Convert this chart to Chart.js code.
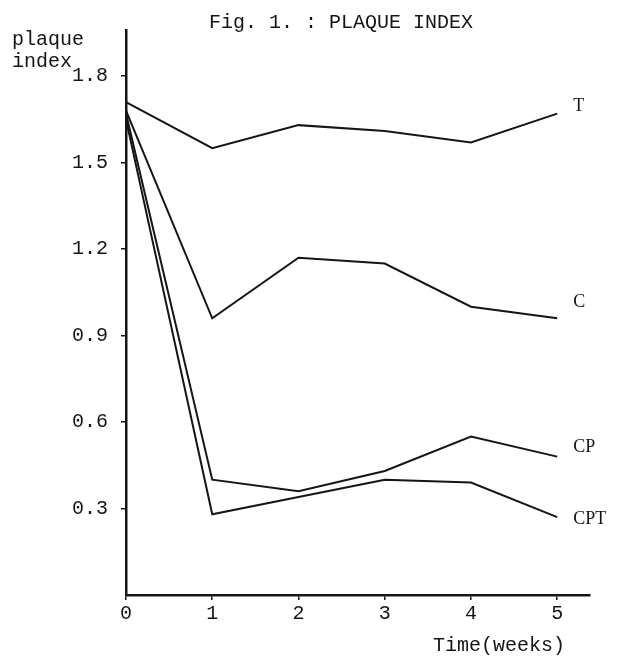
<!DOCTYPE html>
<html>
<head>
<meta charset="utf-8">
<title>Fig. 1. : PLAQUE INDEX</title>
<script src="https://cdn.jsdelivr.net/npm/chart.js@4.4.1/dist/chart.umd.min.js"></script>
<style>
  html, body { margin: 0; padding: 0; background: #fff; }
  canvas { display: block; }
</style>
</head>
<body>
<canvas id="my-chart" width="627" height="656"></canvas>
<script>
'use strict';

// Data
let weeks = [0, 1, 2, 3, 4, 5];
let seriesNames = ['T', 'C', 'CP', 'CPT'];
let valuesT = [1.71, 1.55, 1.63, 1.61, 1.57, 1.67];
let valuesC = [1.68, 0.96, 1.17, 1.15, 1.00, 0.96];
let valuesCP = [1.67, 0.40, 0.36, 0.43, 0.55, 0.48];
let valuesCPT = [1.65, 0.28, 0.34, 0.40, 0.39, 0.27];
let yTickValues = [0.3, 0.6, 0.9, 1.2, 1.5, 1.8];
let xTickValues = [0, 1, 2, 3, 4, 5];

let allSeries = [valuesT, valuesC, valuesCP, valuesCPT];

// small nudges for the end labels (px)
let labelNudgeY = [-7, -16, -9, 2];

let ink = '#151515';
let monoFont = '"Liberation Mono", "DejaVu Sans Mono", monospace';
let serifFont = '"Liberation Serif", "DejaVu Serif", serif';

let ctx = document.getElementById('my-chart');

function toPoints(values) {
  let points = [];
  for (let i = 0; i < weeks.length; i++) {
    points.push({ x: weeks[i], y: values[i] });
  }
  return points;
}

let datasets = [];
for (let i = 0; i < allSeries.length; i++) {
  datasets.push({
    label: seriesNames[i],
    data: toPoints(allSeries[i]),
    borderColor: ink,
    borderWidth: 2,
    pointRadius: 0,
    tension: 0,
    fill: false
  });
}

// title, axis titles and the series names next to the line ends
let textPlugin = {
  id: 'paperText',
  afterDraw(chart) {
    let c = chart.ctx;
    let xScale = chart.scales.x;
    let yScale = chart.scales.y;
    c.save();
    c.fillStyle = ink;
    c.textBaseline = 'alphabetic';

    c.font = '20px ' + monoFont;
    c.textAlign = 'center';
    c.fillText('Fig. 1. : PLAQUE INDEX', 341, 28);

    c.textAlign = 'left';
    c.fillText('plaque', 12, 45);
    c.fillText('index', 12, 67);
    c.fillText('Time(weeks)', 433, 651);

    c.font = '18px ' + serifFont;
    c.textBaseline = 'middle';
    for (let i = 0; i < allSeries.length; i++) {
      let last = allSeries[i].length - 1;
      let px = xScale.getPixelForValue(weeks[last]) + 16;
      let py = yScale.getPixelForValue(allSeries[i][last]) + labelNudgeY[i];
      c.fillText(seriesNames[i], px, py);
    }
    c.restore();
  }
};

let chartObject = {
  type: 'line',
  data: { datasets: datasets },
  options: {
    responsive: false,
    animation: false,
    devicePixelRatio: 1,
    layout: {
      padding: { top: 30, right: 37, left: 0, bottom: 0 }
    },
    plugins: {
      legend: { display: false },
      title: { display: false },
      tooltip: { enabled: false }
    },
    scales: {
      x: {
        type: 'linear',
        min: 0,
        max: 5.38,
        afterBuildTicks: function (scale) {
          scale.ticks = xTickValues.map(v => ({ value: v }));
        },
        afterFit: function (scale) {
          scale.height = 61;
        },
        ticks: {
          color: ink,
          font: { family: monoFont, size: 20 },
          padding: 2,
          maxRotation: 0,
          autoSkip: false
        },
        grid: {
          drawOnChartArea: false,
          drawTicks: true,
          tickLength: 5,
          color: ink,
          lineWidth: 1.5
        },
        border: { display: true, color: ink, width: 2.5 }
      },
      y: {
        type: 'linear',
        min: 0,
        max: 1.96,
        afterBuildTicks: function (scale) {
          scale.ticks = yTickValues.map(v => ({ value: v }));
        },
        afterFit: function (scale) {
          scale.width = 126;
        },
        ticks: {
          color: ink,
          font: { family: monoFont, size: 20 },
          padding: 13,
          callback: function (value) {
            return Number(value).toFixed(1);
          }
        },
        grid: {
          drawOnChartArea: false,
          drawTicks: true,
          tickLength: 5,
          color: ink,
          lineWidth: 1.5
        },
        border: { display: true, color: ink, width: 2.5 }
      }
    }
  },
  plugins: [textPlugin]
};

const plaqueChart = new Chart(ctx, chartObject);
</script>
</body>
</html>
